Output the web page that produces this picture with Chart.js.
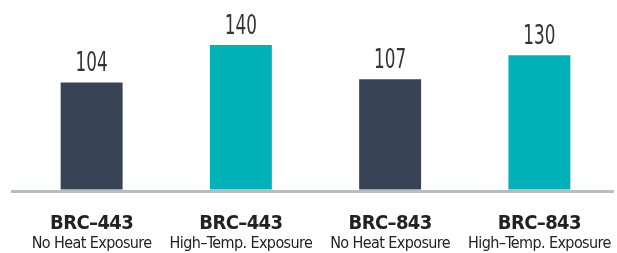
<!DOCTYPE html>
<html>
<head>
<meta charset="utf-8">
<script src="https://cdn.jsdelivr.net/npm/chart.js@4.4.1/dist/chart.umd.min.js"></script>
<style>
  html, body { margin: 0; padding: 0; background: #fff; }
  #wrap { width: 617px; height: 253px; }
</style>
</head>
<body>
<div id="wrap"><canvas id="chart"></canvas></div>
<script>
var products = ['BRC\u2013443', 'BRC\u2013443', 'BRC\u2013843', 'BRC\u2013843']
var conditions = ['No Heat Exposure', 'High\u2013Temp. Exposure', 'No Heat Exposure', 'High\u2013Temp. Exposure']
var values = [104, 140, 107, 130]
var barColors = ['#384355', '#00b1b8', '#384355', '#00b1b8']

var narrow = "'DejaVu Sans Condensed', 'Liberation Sans Narrow', sans-serif"

// tighter letters so the labels look like the condensed face
var tightText = {
  id: 'tightText',
  beforeDraw: function (chart) {
    chart.ctx.letterSpacing = '-0.6px'
  }
}

// writes the number above each bar, squeezed sideways
var valueLabels = {
  id: 'valueLabels',
  afterDatasetsDraw: function (chart) {
    var c = chart.ctx
    var meta = chart.getDatasetMeta(0)
    c.save()
    c.letterSpacing = '0px'
    c.font = '26px ' + narrow
    c.fillStyle = '#333333'
    c.textAlign = 'center'
    c.textBaseline = 'alphabetic'
    meta.data.forEach(function (bar, i) {
      c.save()
      c.translate(bar.x, bar.y - 11)
      c.scale(0.72, 1)
      c.fillText(String(values[i]), 0, 0)
      c.restore()
    })
    c.restore()
  }
}

var ctx = document.getElementById('chart')

new Chart(ctx, {
  type: 'bar',
  data: {
    labels: products,
    datasets: [{
      data: values,
      backgroundColor: barColors,
      borderWidth: 0,
      barPercentage: 0.415,
      categoryPercentage: 1
    }]
  },
  options: {
    responsive: true,
    maintainAspectRatio: false,
    animation: false,
    layout: { padding: { left: 11, right: 3, top: 0, bottom: 0 } },
    plugins: {
      legend: { display: false },
      tooltip: { enabled: false }
    },
    scales: {
      y: {
        min: 0,
        max: 183,
        ticks: { display: false },
        border: { display: false },
        grid: {
          drawTicks: true,
          tickLength: 6,
          lineWidth: 3,
          color: function (c) { return c.tick && c.tick.value === 0 ? '#b7bdc4' : 'rgba(0,0,0,0)' }
        }
      },
      x: {
        weight: 0,
        grid: { display: false },
        border: { display: false },
        ticks: {
          color: '#222222',
          font: { family: narrow, size: 20, weight: 'bold' },
          padding: 13,
          maxRotation: 0,
          autoSkip: false
        },
        afterFit: function (s) { s.height = 39; s.paddingLeft = 0; s.paddingRight = 0 }
      },
      x2: {
        type: 'category',
        position: 'bottom',
        labels: conditions,
        offset: true,
        weight: 1,
        grid: { display: false, offset: true },
        border: { display: false },
        ticks: {
          color: '#222222',
          font: { family: narrow, size: 16 },
          padding: -4,
          maxRotation: 0,
          autoSkip: false
        },
        afterFit: function (s) { s.height = 23; s.paddingLeft = 0; s.paddingRight = 0 }
      }
    }
  },
  plugins: [tightText, valueLabels]
})
</script>
</body>
</html>
